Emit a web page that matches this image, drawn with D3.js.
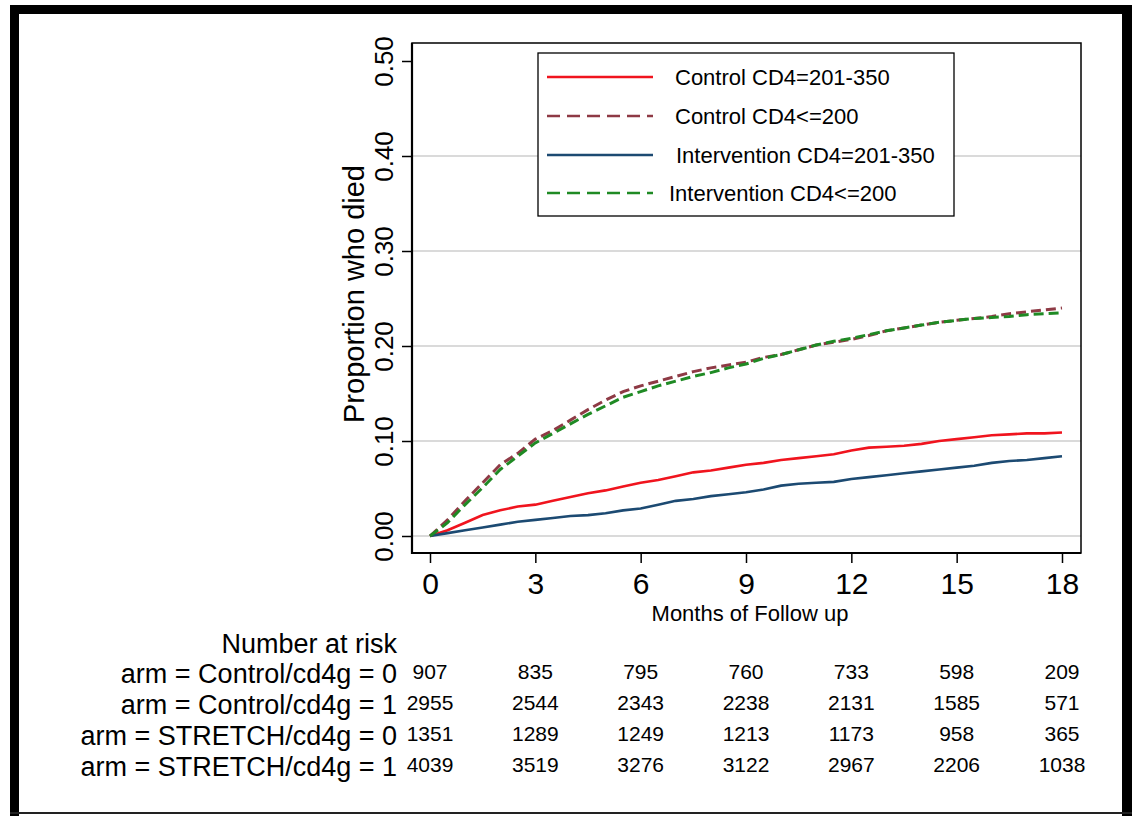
<!DOCTYPE html>
<html>
<head>
<meta charset="utf-8">
<script src="https://cdn.jsdelivr.net/npm/d3@7"></script>
<style>
  body { margin: 0; background: #fff; }
  svg { display: block; font-family: "Liberation Sans", Arial, sans-serif; }
</style>
</head>
<body>
<svg id="chart" width="1132" height="816"></svg>
<script>
// months of follow up at which the curves were read
var months = [0, 0.5, 1, 1.5, 2, 2.5, 3, 3.5, 4, 4.5, 5, 5.5, 6, 6.5, 7, 7.5, 8, 8.5, 9,
              9.5, 10, 10.5, 11, 11.5, 12, 12.5, 13, 13.5, 14, 14.5, 15, 15.5, 16, 16.5, 17, 17.5, 18];

var controlHigh = [0, 0.006, 0.014, 0.022, 0.027, 0.031, 0.033, 0.037, 0.041, 0.045, 0.048, 0.052, 0.056,
                   0.059, 0.063, 0.067, 0.069, 0.072, 0.075, 0.077, 0.080, 0.082, 0.084, 0.086, 0.090,
                   0.093, 0.094, 0.095, 0.097, 0.100, 0.102, 0.104, 0.106, 0.107, 0.108, 0.108, 0.109];
var controlLow = [0, 0.017, 0.037, 0.056, 0.075, 0.087, 0.102, 0.111, 0.122, 0.133, 0.143, 0.152, 0.158,
                  0.163, 0.168, 0.173, 0.177, 0.180, 0.183, 0.188, 0.191, 0.196, 0.201, 0.204, 0.207,
                  0.211, 0.216, 0.219, 0.222, 0.225, 0.227, 0.229, 0.231, 0.234, 0.236, 0.238, 0.240];
var interHigh = [0, 0.003, 0.006, 0.009, 0.012, 0.015, 0.017, 0.019, 0.021, 0.022, 0.024, 0.027, 0.029,
                 0.033, 0.037, 0.039, 0.042, 0.044, 0.046, 0.049, 0.053, 0.055, 0.056, 0.057, 0.060,
                 0.062, 0.064, 0.066, 0.068, 0.070, 0.072, 0.074, 0.077, 0.079, 0.080, 0.082, 0.084];
var interLow = [0, 0.014, 0.033, 0.051, 0.070, 0.084, 0.098, 0.108, 0.118, 0.128, 0.137, 0.146, 0.152,
                0.158, 0.163, 0.168, 0.172, 0.177, 0.181, 0.187, 0.191, 0.196, 0.201, 0.205, 0.208,
                0.212, 0.216, 0.219, 0.222, 0.225, 0.227, 0.229, 0.230, 0.231, 0.233, 0.234, 0.235];

var seriesNames = ["Control CD4=201-350", "Control CD4<=200", "Intervention CD4=201-350", "Intervention CD4<=200"];
var seriesValues = [controlHigh, controlLow, interHigh, interLow];
var seriesColors = ["#f0141e", "#8e3a45", "#1c4a72", "#1f8a24"];
var seriesDashed = [false, true, false, true];

var xTicks = [0, 3, 6, 9, 12, 15, 18];
var yTicks = [0, 0.1, 0.2, 0.3, 0.4, 0.5];
var gridTicks = [0, 0.1, 0.2, 0.3, 0.4];

var riskLabels = ["arm = Control/cd4g = 0", "arm = Control/cd4g = 1",
                  "arm = STRETCH/cd4g = 0", "arm = STRETCH/cd4g = 1"];
var riskCounts = [
    [907, 835, 795, 760, 733, 598, 209],
    [2955, 2544, 2343, 2238, 2131, 1585, 571],
    [1351, 1289, 1249, 1213, 1173, 958, 365],
    [4039, 3519, 3276, 3122, 2967, 2206, 1038]
];

var svg = d3.select("#chart");

// outer frame
svg.append("rect").attr("x", 10).attr("y", 5).attr("width", 1122).attr("height", 9).attr("fill", "#000");
svg.append("rect").attr("x", 10).attr("y", 5).attr("width", 9).attr("height", 811).attr("fill", "#000");
svg.append("rect").attr("x", 1122).attr("y", 5).attr("width", 10).attr("height", 811).attr("fill", "#000");
svg.append("line").attr("x1", 10).attr("x2", 1132).attr("y1", 813).attr("y2", 813)
    .style("stroke", "#222").style("stroke-width", 2);

var plotL = 412, plotR = 1081, plotT = 43, plotB = 553;

var x = d3.scaleLinear().domain([0, 18]).range([430, 1062]);
var y = d3.scaleLinear().domain([0, 0.5]).range([536, 61]);

// gridlines
svg.append("g").selectAll("line").data(gridTicks).enter().append("line")
    .attr("x1", plotL).attr("x2", plotR)
    .attr("y1", function(d) { return y(d); })
    .attr("y2", function(d) { return y(d); })
    .style("stroke", "#dadada").style("stroke-width", 2);

// plot region outline
svg.append("rect").attr("x", plotL).attr("y", plotT)
    .attr("width", plotR - plotL).attr("height", plotB - plotT)
    .attr("fill", "none").style("stroke", "#000").style("stroke-width", 1.5);
svg.append("line").attr("x1", plotL).attr("x2", plotL).attr("y1", plotT).attr("y2", plotB + 1)
    .style("stroke", "#000").style("stroke-width", 2.2);
svg.append("line").attr("x1", plotL - 1).attr("x2", plotR).attr("y1", plotB).attr("y2", plotB)
    .style("stroke", "#000").style("stroke-width", 2.2);

// y axis
var yAxis = svg.append("g").attr("transform", "translate(" + plotL + ",0)")
    .call(d3.axisLeft(y).tickValues(yTicks).tickFormat(d3.format(".2f")).tickSize(10).tickSizeOuter(0));
yAxis.select(".domain").remove();
yAxis.selectAll(".tick line").style("stroke", "#000").style("stroke-width", 1.5);
yAxis.selectAll(".tick text")
    .attr("x", null).attr("dy", null)
    .attr("text-anchor", "middle")
    .attr("transform", "translate(-19,0) rotate(-90)")
    .style("font-size", "26px").style("fill", "#000")
    .style("font-family", "'Liberation Sans', Arial, sans-serif");

// x axis
var xAxis = svg.append("g").attr("transform", "translate(0," + plotB + ")")
    .call(d3.axisBottom(x).tickValues(xTicks).tickSize(10).tickSizeOuter(0));
xAxis.select(".domain").remove();
xAxis.selectAll(".tick line").style("stroke", "#000").style("stroke-width", 1.5);
xAxis.selectAll(".tick text")
    .attr("y", 41).attr("dy", null)
    .style("font-size", "30px").style("fill", "#000")
    .style("font-family", "'Liberation Sans', Arial, sans-serif");

// axis titles
svg.append("text")
    .attr("transform", "translate(364,294) rotate(-90)")
    .attr("text-anchor", "middle")
    .style("font-size", "29px")
    .text("Proportion who died");
svg.append("text")
    .attr("x", 750).attr("y", 621)
    .attr("text-anchor", "middle")
    .style("font-size", "22px")
    .text("Months of Follow up");

// curves
var line = d3.line()
    .x(function(d) { return x(d[0]); })
    .y(function(d) { return y(d[1]); })
    .curve(d3.curveLinear);

var drawOrder = [0, 2, 1, 3];
drawOrder.forEach(function(i) {
    var pts = months.map(function(m, j) { return [m, seriesValues[i][j]]; });
    svg.append("path")
        .attr("d", line(pts))
        .attr("fill", "none")
        .style("stroke", seriesColors[i])
        .style("stroke-width", seriesDashed[i] ? 3 : 2.6)
        .style("stroke-dasharray", seriesDashed[i] ? "10,5" : null);
});

// legend
var legend = svg.append("g");
legend.append("rect").attr("x", 538).attr("y", 53).attr("width", 416).attr("height", 163)
    .attr("fill", "#fff").style("stroke", "#000").style("stroke-width", 1.3);
var legendRows = [77, 116, 155, 193];
var legendTextX = [675, 675, 676, 669];
seriesNames.forEach(function(name, i) {
    legend.append("line")
        .attr("x1", 547).attr("x2", 653)
        .attr("y1", legendRows[i]).attr("y2", legendRows[i])
        .style("stroke", seriesColors[i]).style("stroke-width", 2.4)
        .style("stroke-dasharray", seriesDashed[i] ? "13,7" : null);
    legend.append("text")
        .attr("x", legendTextX[i]).attr("y", legendRows[i] + 8)
        .style("font-size", "22px")
        .text(name);
});

// number at risk table
svg.append("text")
    .attr("x", 397).attr("y", 653)
    .attr("text-anchor", "end")
    .style("font-size", "27px")
    .text("Number at risk");
var rowBase = [683, 714, 745, 776];
riskLabels.forEach(function(lab, i) {
    svg.append("text")
        .attr("x", 397).attr("y", rowBase[i])
        .attr("text-anchor", "end")
        .style("font-size", "27px")
        .text(lab);
    svg.append("g").selectAll("text").data(riskCounts[i]).enter().append("text")
        .attr("x", function(d, j) { return x(xTicks[j]); })
        .attr("y", rowBase[i] - 4)
        .attr("text-anchor", "middle")
        .style("font-size", "21px")
        .text(function(d) { return d; });
});
</script>
</body>
</html>
